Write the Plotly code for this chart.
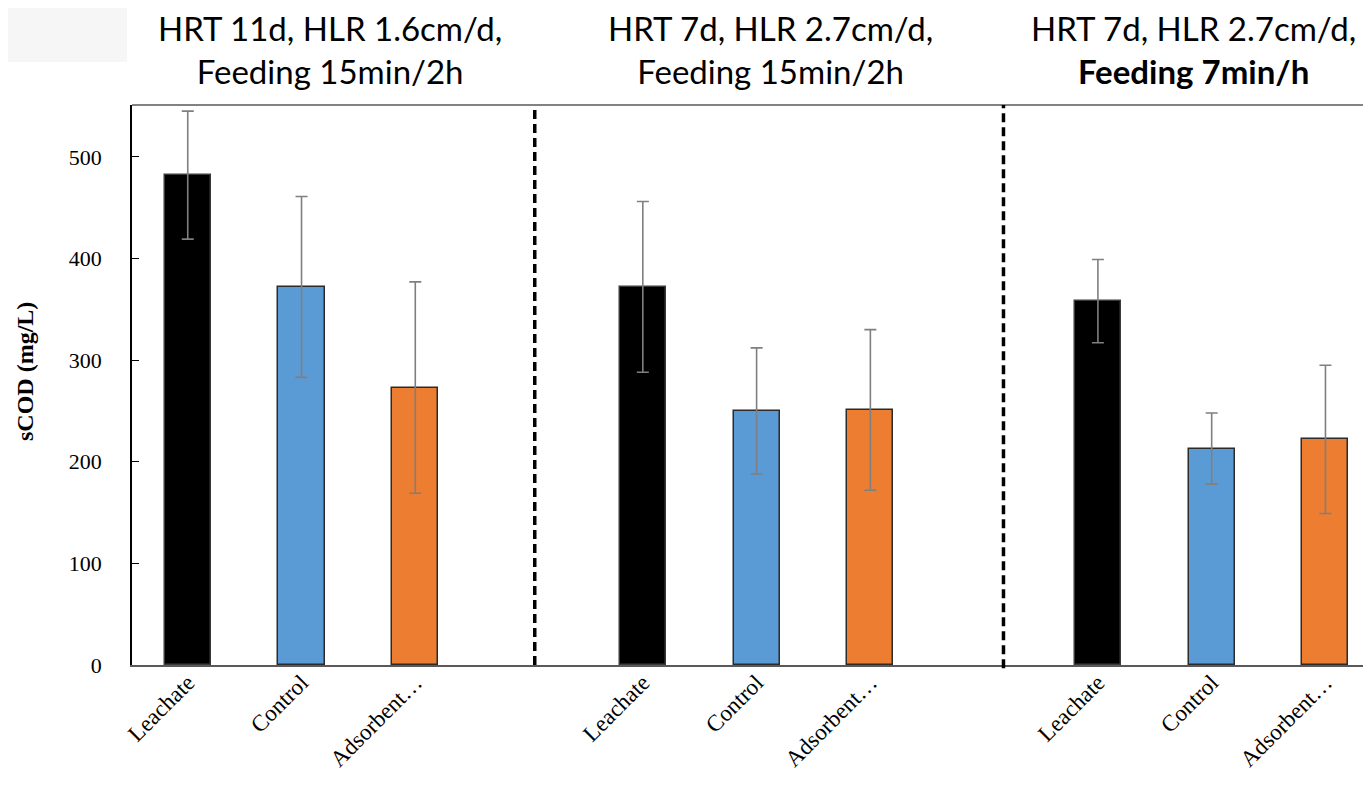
import plotly.graph_objects as go

# ---- data ----
groups = ["HRT 11d, HLR 1.6cm/d,<br>Feeding 15min/2h",
          "HRT 7d, HLR 2.7cm/d,<br>Feeding 15min/2h",
          "HRT 7d, HLR 2.7cm/d,<br><b>Feeding 7min/h</b>"]
categories = ["Leachate", "Control", "Adsorbent…"]
leachate = [482, 372, 358]
leachate_err = [63, 84, 41]
control = [372, 250, 213]
control_err = [89, 62, 35]
adsorbent = [273, 251, 222]
adsorbent_err = [104, 79, 73]

series = [
    (categories[0], leachate, leachate_err, "#000000", "#3a3a3a"),
    (categories[1], control, control_err, "#5B9BD5", "#2b2b2b"),
    (categories[2], adsorbent, adsorbent_err, "#ED7D31", "#2b2b2b"),
]

GAP = 4  # slots per group (3 bars + 1 empty)
fig = go.Figure()
for i, (name, vals, errs, fill, edge) in enumerate(series):
    xs = [g * GAP + i for g in range(len(groups))]
    fig.add_trace(go.Bar(
        x=xs, y=vals, name=name, width=0.405,
        marker=dict(color=fill, line=dict(color=edge, width=1.5)),
        error_y=dict(type="data", array=errs, visible=True,
                     color="#7f7f7f", thickness=1.6, width=6),
        showlegend=False,
    ))

tickvals = [g * GAP + i for g in range(len(groups)) for i in range(len(categories))]
ticktext = [categories[i] for g in range(len(groups)) for i in range(len(categories))]

OFF = 8  # page body margin (each side)
W, H = 1371 - 2 * OFF, 790 - 2 * OFF
L, T = 132 - OFF, 105 - OFF
B = H - (665 - OFF)
pw, ph = W - L, H - T - B

def px(x):
    return (x - OFF - L) / pw

def py(y):
    return (H - B - (y - OFF)) / ph

shapes = []
# top-left slide decoration
shapes.append(dict(type="rect", xref="paper", yref="paper", x0=px(0), x1=px(127),
                   y0=py(62), y1=py(0), fillcolor="#f6f6f6", line=dict(width=0), layer="below"))
# top frame line
shapes.append(dict(type="line", xref="paper", yref="paper", x0=0, x1=1, y0=1, y1=1,
                   line=dict(color="#595959", width=1.5)))
# dashed separators
for sx, y0 in [(3.05, 0), (7.17, -0.006)]:
    shapes.append(dict(type="line", xref="x", yref="paper", x0=sx, x1=sx, y0=y0, y1=1,
                       line=dict(color="#000000", width=3.5, dash="9px,5px")))

annotations = []
title_x = [1.25, 5.12, 8.84]
for gx, gt in zip(title_x, groups):
    annotations.append(dict(x=gx, y=py(50), xref="x", yref="paper", text=gt,
                            showarrow=False, xanchor="center", yanchor="middle",
                            font=dict(family="Lato", size=33, color="#000000")))
annotations.append(dict(x=px(25), y=py(372), xref="paper", yref="paper",
                        text="<b>sCOD (mg/L)</b>", textangle=-90, showarrow=False,
                        xanchor="center", yanchor="middle",
                        font=dict(family="Liberation Serif", size=24, color="#000000")))

fig.update_layout(
    width=W, height=H,
    margin=dict(l=L, r=0, t=T, b=B, pad=0, autoexpand=False),
    paper_bgcolor="#ffffff", plot_bgcolor="#ffffff",
    bargap=0,
    shapes=shapes, annotations=annotations,
    xaxis=dict(range=[-0.49, 10.33], tickvals=tickvals, ticktext=ticktext,
               tickangle=-45, showgrid=False, zeroline=False, automargin=False,
               showline=True, linecolor="#595959", linewidth=2, ticks="",
               ticklabelstandoff=-7,
               tickfont=dict(family="Liberation Serif", size=23, color="#000000")),
    yaxis=dict(range=[0, 551], tickvals=[0, 100, 200, 300, 400, 500],
               showgrid=False, zeroline=False, showline=True, linecolor="#000000",
               linewidth=1.5, ticks="inside", ticklen=7, tickcolor="#000000",
               tickwidth=1.2, ticklabelstandoff=24, automargin=False,
               tickfont=dict(family="Liberation Serif", size=22, color="#000000")),
)

fig.write_html("out.html")
